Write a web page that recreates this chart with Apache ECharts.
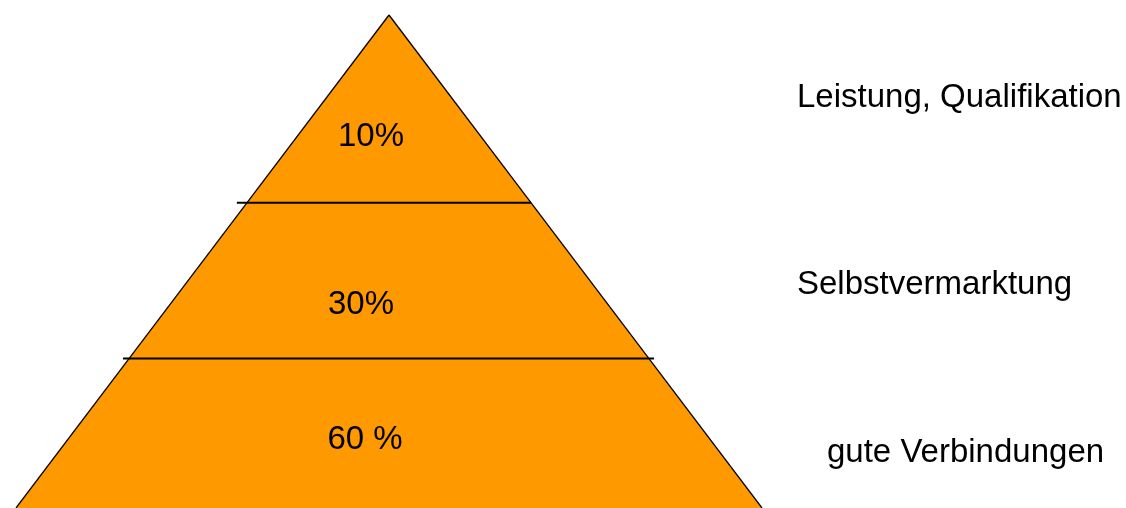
<!DOCTYPE html>
<html><head><meta charset="utf-8">
<script src="https://cdn.jsdelivr.net/npm/echarts@6/dist/echarts.min.js"></script>
<style>html,body{margin:0;padding:0;background:#fff;overflow:hidden}#c{width:1126px;height:508px}</style>
</head><body><div id="c"></div>
<script>
// Data (bottom to top)
const levels = ['gute Verbindungen', 'Selbstvermarktung', 'Leistung, Qualifikation'];
const shareLabels = ['60 %', '30%', '10%'];
const bandBottom = [0, 30.3, 61.9];
const bandTop = [30.3, 61.9, 100];

// Layout / style (pixel tweaks)
const dividerOverhang = [[0, 0], [6, 5], [10, 0]];
const shareOffset = [[-24, 7], [-28, 24], [-18, 28]];
const nameOffset = [[65, 20], [35, 4], [35, -11]];
const FONT = '"Liberation Sans", Arial, sans-serif';
const FILL = '#FF9900';

const halfW = h => 50 * (1 - h / 100);

const chart = echarts.init(document.getElementById('c'), null, {renderer: 'canvas'});
chart.setOption({
  animation: false,
  grid: {left: 16, right: 364, top: 15, bottom: 0},
  xAxis: {type: 'value', min: -50, max: 50, show: false},
  yAxis: {type: 'value', min: 0, max: 100, show: false},
  series: [{
    type: 'custom',
    clip: false,
    dimensions: ['lo', 'hi', 'idx'],
    encode: {y: [0, 1]},
    data: levels.map((n, i) => [bandBottom[i], bandTop[i], i]),
    renderItem: function (params, api) {
      const i = params.dataIndex;
      const lo = api.value(0), hi = api.value(1);
      const bl = api.coord([-halfW(lo), lo]);
      const br = api.coord([halfW(lo), lo]);
      const tr = api.coord([halfW(hi), hi]);
      const tl = api.coord([-halfW(hi), hi]);
      const children = [
        {type: 'polygon', shape: {points: [bl, br, tr, tl]}, style: {fill: FILL, stroke: null}},
        {type: 'line', shape: {x1: bl[0], y1: bl[1], x2: tl[0], y2: tl[1]}, style: {stroke: '#000', lineWidth: 1.3}},
        {type: 'line', shape: {x1: br[0], y1: br[1], x2: tr[0], y2: tr[1]}, style: {stroke: '#000', lineWidth: 1.3}}
      ];
      if (lo > 0) {
        children.push({type: 'line', shape: {x1: bl[0] - dividerOverhang[i][0], y1: bl[1], x2: br[0] + dividerOverhang[i][1], y2: br[1]},
          style: {stroke: '#000', lineWidth: 2}});
      }
      const cy = (bl[1] + tl[1]) / 2;
      const apex = api.coord([0, 100]);
      children.push({type: 'text', style: {text: shareLabels[i], x: apex[0] + shareOffset[i][0], y: cy + shareOffset[i][1],
        fill: '#000', font: '33px ' + FONT, textAlign: 'center', textVerticalAlign: 'middle'}});
      const rightEdge = api.coord([50, 0]);
      children.push({type: 'text', style: {text: levels[i], x: rightEdge[0] + nameOffset[i][0], y: cy + nameOffset[i][1],
        fill: '#000', font: '33px ' + FONT, textAlign: 'left', textVerticalAlign: 'middle'}});
      return {type: 'group', children: children};
    }
  }]
});
</script>
</body></html>
